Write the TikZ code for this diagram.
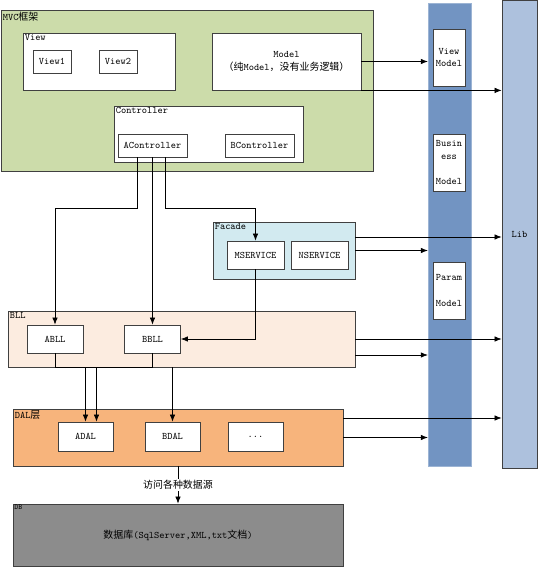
\documentclass[tikz,border=0pt]{standalone}
\usepackage{fontspec}
\newfontfamily\cjk{Noto Sans CJK SC}
\usetikzlibrary{arrows.meta}

\definecolor{mvcgreen}{RGB}{204,220,170}
\definecolor{bllpeach}{RGB}{252,236,224}
\definecolor{dalorange}{RGB}{247,180,124}
\definecolor{facadeblue}{RGB}{210,234,240}
\definecolor{dbgray}{RGB}{140,140,140}
\definecolor{vmblue}{RGB}{114,148,194}
\definecolor{libblue}{RGB}{173,193,221}

\tikzset{
  layer/.style={draw=black!75, line width=0.8bp, inner sep=0pt},
  item/.style={draw=black!75, fill=white, line width=0.8bp, inner sep=0pt, align=center},
  tag/.style={anchor=north west, inner sep=2bp},
  arr/.style={-{Latex[length=7bp,width=5.5bp]}, line width=0.7bp},
}

\begin{document}
\begin{tikzpicture}[x=1bp, y=-1bp, font=\fontsize{10}{12.7}\selectfont\ttfamily]
     \useasboundingbox (0,0) rectangle (538,567);

     % MVC layer
     \node[layer, fill=mvcgreen, minimum width=372bp, minimum height=161bp] (mvc) at (187,90.5) {};
     \node[tag] (mvctag) at (mvc.north west) {MVC{\cjk 框架}};
     \node[item, minimum width=152bp, minimum height=57bp] (view) at (99,61.5) {};
     \node[tag] (viewtag) at (view.north west) {View};
     \node[item, minimum width=38bp, minimum height=23bp] (view1) at (52,61.5) {View1};
     \node[item, minimum width=38bp, minimum height=23bp] (view2) at (118,61.5) {View2};
     \node[item, minimum width=149bp, minimum height=57bp] (model) at (286.5,61.5)
          {Model\\{\cjk （纯}Model{\cjk ，没有业务逻辑）}};
     \node[item, minimum width=189bp, minimum height=56bp] (ctrl) at (208.5,134) {};
     \node[tag] (ctrltag) at (ctrl.north west) {Controller};
     \node[item, minimum width=69bp, minimum height=23bp] (actrl) at (152.5,145.5) {AController};
     \node[item, minimum width=69bp, minimum height=23bp] (bctrl) at (259.5,145.5) {BController};

     % Facade
     \node[layer, fill=facadeblue, minimum width=142bp, minimum height=57bp] (facade) at (284,250.5) {};
     \node[tag] (facadetag) at (facade.north west) {Facade};
     \node[item, minimum width=57bp, minimum height=28bp] (mserv) at (255.5,255) {MSERVICE};
     \node[item, minimum width=57bp, minimum height=28bp] (nserv) at (319.5,255) {NSERVICE};

     % BLL
     \node[layer, fill=bllpeach, minimum width=347bp, minimum height=56bp] (bll) at (181.5,339) {};
     \node[tag] (blltag) at (bll.north west) {BLL};
     \node[item, minimum width=56bp, minimum height=28bp] (abll) at (55,339) {ABLL};
     \node[item, minimum width=56bp, minimum height=28bp] (bbll) at (152.5,339) {BBLL};

     % DAL
     \node[layer, fill=dalorange, minimum width=330bp, minimum height=57bp] (dal) at (178,437.5) {};
     \node[tag] (daltag) at (dal.north west) {DAL{\cjk 层}};
     \node[item, minimum width=55bp, minimum height=29bp] (adal) at (85.5,436.5) {ADAL};
     \node[item, minimum width=55bp, minimum height=29bp] (bdal) at (172.5,436.5) {BDAL};
     \node[item, minimum width=55bp, minimum height=29bp] (more) at (255.5,436.5) {...};

     % DB
     \node[layer, fill=dbgray, minimum width=330bp, minimum height=62bp] (db) at (178,535)
          {{\cjk 数据库}(SqlServer,XML,txt{\cjk 文档})};
     \node[tag, inner sep=1.5bp, font=\fontsize{7.5}{8}\selectfont\ttfamily] (dbtag) at (db.north west) {DB};

     % Model column and Lib
     \node[draw=vmblue!70!white, fill=vmblue, minimum width=43bp, minimum height=463bp, inner sep=0pt] (vmcol) at (449.5,234.5) {};
     \node[item, minimum width=32bp, minimum height=57bp] (vmodel) at (449,57.5) {View\\Model};
     \node[item, minimum width=32bp, minimum height=57bp] (bmodel) at (449,162.5) {Busin\\ess\\~\\Model};
     \node[item, minimum width=32bp, minimum height=57bp] (pmodel) at (449,290.5) {Param\\~\\Model};
     \node[layer, fill=libblue, minimum width=35bp, minimum height=468bp] (lib) at (519.5,234) {Lib};

     % controller to services
     \draw[arr] ([xshift=-15.5bp]actrl.south) -- ++(0,51) -| (abll.north);
     \draw[arr] (actrl.south) -- (bbll.north);
     \draw[arr] ([xshift=12.5bp]actrl.south) -- ++(0,51) -| (mserv.north);
     \draw[arr] (mserv.south) |- (bbll.east);

     % BLL to DAL
     \draw (abll.south) -- (abll.south |- bll.south) -| (bbll.south);
     \draw[arr] (adal.north |- bll.south) -- (adal.north);
     \draw[arr] ([xshift=11bp]adal.north |- bll.south) -- ([xshift=11bp]adal.north);
     \draw[arr] (bdal.north |- bll.south) -- (bdal.north);
     \draw[arr] (dal.south) -- node[fill=white, inner sep=1bp] (access) {\cjk 访问各种数据源} (db.north);

     % to model column and lib
     \draw[arr] (model.east) -- (model.east -| vmcol.west);
     \draw[arr] (model.south east) -- (model.south east -| lib.west);
     \draw[arr] ([yshift=13.5bp]facade.east) -- ([yshift=13.5bp]facade.east -| lib.west);
     \draw[arr] (facade.east) -- (facade.east -| vmcol.west);
     \draw[arr] (bll.east) -- (bll.east -| lib.west);
     \draw[arr] ([yshift=-16bp]bll.east) -- ([yshift=-16bp]bll.east -| vmcol.west);
     \draw[arr] ([yshift=19.5bp]dal.east) -- ([yshift=19.5bp]dal.east -| lib.west);
     \draw[arr] (dal.east) -- (dal.east -| vmcol.west);
\end{tikzpicture}
\end{document}
